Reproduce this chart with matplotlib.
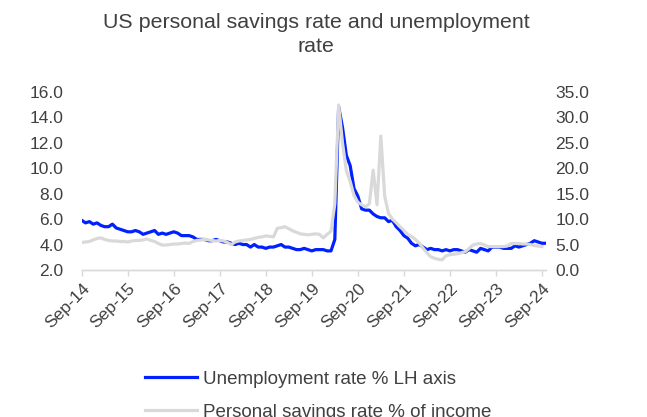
import matplotlib
matplotlib.use("Agg")
import matplotlib.pyplot as plt
import matplotlib.transforms as mtransforms
import numpy as np
import pandas as pd

plt.rcParams["font.family"] = ["Liberation Sans", "DejaVu Sans"]

# monthly series, Sep-14 onwards
unemployment = [
    5.9, 5.7, 5.8, 5.6,
    5.7, 5.5, 5.4, 5.4, 5.6, 5.3, 5.2, 5.1, 5.0, 5.0, 5.1, 5.0,
    4.8, 4.9, 5.0, 5.1, 4.8, 4.9, 4.8, 4.9, 5.0, 4.9, 4.7, 4.7,
    4.7, 4.6, 4.4, 4.4, 4.4, 4.3, 4.3, 4.4, 4.3, 4.2, 4.2, 4.1,
    4.0, 4.1, 4.0, 4.0, 3.8, 4.0, 3.8, 3.8, 3.7, 3.8, 3.8, 3.9,
    4.0, 3.8, 3.8, 3.7, 3.6, 3.6, 3.7, 3.6, 3.5, 3.6, 3.6, 3.6,
    3.5, 3.5, 4.4, 14.8, 13.2, 11.0, 10.2, 8.4, 7.8, 6.8, 6.7, 6.7,
    6.4, 6.2, 6.1, 6.1, 5.8, 5.9, 5.4, 5.1, 4.7, 4.5, 4.1, 3.9,
    4.0, 3.8, 3.6, 3.7, 3.6, 3.6, 3.5, 3.6, 3.5, 3.6, 3.6, 3.5,
    3.4, 3.6, 3.5, 3.4, 3.7, 3.6, 3.5, 3.8, 3.8, 3.8, 3.7, 3.7,
    3.7, 3.9, 3.8, 3.9, 4.0, 4.1, 4.3, 4.2, 4.1, 4.1,
]

savings = [
    5.4, 5.5, 5.6, 5.9,
    6.2, 6.3, 6.0, 5.8, 5.7, 5.7, 5.6, 5.6, 5.5, 5.7, 5.8, 5.8,
    5.9, 6.1, 5.8, 5.6, 5.2, 4.9, 4.9, 5.0, 5.1, 5.1, 5.2, 5.3,
    5.2, 5.6, 5.8, 5.9, 6.0, 5.9, 5.8, 5.7, 5.8, 5.7, 5.4, 5.0,
    5.5, 5.7, 5.8, 5.9, 6.0, 6.2, 6.4, 6.5, 6.7, 6.6, 6.5, 8.2,
    8.3, 8.5, 8.1, 7.7, 7.4, 7.1, 7.0, 6.9, 7.0, 7.1, 7.0, 6.3,
    7.0, 7.6, 13.0, 32.4, 25.0, 19.5, 17.4, 14.6, 13.3, 12.8, 12.4, 13.0,
    19.6, 12.8, 26.3, 14.5, 11.1, 10.0, 9.3, 8.5, 7.8, 7.0, 6.6, 6.0,
    5.3, 4.3, 3.4, 2.6, 2.3, 2.1, 2.0, 2.8, 3.0, 3.1, 3.2, 3.4,
    3.6, 4.2, 4.9, 5.1, 5.2, 4.9, 4.6, 4.6, 4.6, 4.6, 4.6, 4.7,
    5.2, 5.2, 5.2, 5.1, 5.1, 5.0, 4.8, 4.7, 4.6,
]

months = pd.date_range("2014-09-01", periods=len(unemployment), freq="MS")
tick_labels = [d.strftime("%b-%y") for d in months[::12]]

x_unemp = np.arange(len(unemployment))
x_sav = np.arange(len(savings))

text_col = "#404040"
axis_col = "#d9d9d9"

fig = plt.figure(figsize=(6.47, 4.17), dpi=100)
ax = fig.add_axes([0.1263, 0.3525, 0.7172, 0.4276])
ax2 = ax.twinx()

ax.plot(x_unemp, unemployment, color="#0020ff", lw=2.3,
        solid_joinstyle="round", label="Unemployment rate % LH axis")
ax2.plot(x_sav, savings, color="#d9d9d9", lw=2.3,
         solid_joinstyle="round", label="Personal savings rate % of income")

ax.set_xlim(0, 121)
ax.set_ylim(2, 16)
ax.set_yticks(np.arange(2, 16.1, 2))
ax.set_yticklabels([f"{v:.1f}" for v in np.arange(2, 16.1, 2)])
ax2.set_ylim(0, 35)
ax2.set_yticks(np.arange(0, 35.1, 5))
ax2.set_yticklabels([f"{v:.1f}" for v in np.arange(0, 35.1, 5)])

ax.set_xticks(x_unemp[::12])
ax.set_xticklabels(tick_labels, rotation=45, ha="right", va="top",
                   rotation_mode="anchor")
shift = mtransforms.ScaledTranslation(-5 / 100, 0, fig.dpi_scale_trans)
for lbl in ax.get_xticklabels():
    lbl.set_transform(lbl.get_transform() + shift)

for a in (ax, ax2):
    for side in ("top", "left", "right"):
        a.spines[side].set_visible(False)
    a.spines["bottom"].set_color(axis_col)
    a.spines["bottom"].set_linewidth(1.0)
    a.tick_params(axis="y", length=0, labelsize=12.5, labelcolor=text_col)

ax.tick_params(axis="y", pad=13)
ax2.tick_params(axis="y", pad=7)
ax.tick_params(axis="x", length=4, width=1.0, color=axis_col,
               labelsize=12.5, labelcolor=text_col, pad=4)

fig.suptitle("US personal savings rate and unemployment\nrate",
             x=0.489, y=0.968, fontsize=15.4, color=text_col, linespacing=1.32)

h1, l1 = ax.get_legend_handles_labels()
h2, l2 = ax2.get_legend_handles_labels()
fig.legend(h1 + h2, l1 + l2, loc="upper left", bbox_to_anchor=(0.198, 0.152),
           frameon=False, fontsize=13.5, labelcolor=text_col,
           handlelength=2.8, handletextpad=0.3, labelspacing=0.85)

fig.savefig("out.png", dpi=100)
